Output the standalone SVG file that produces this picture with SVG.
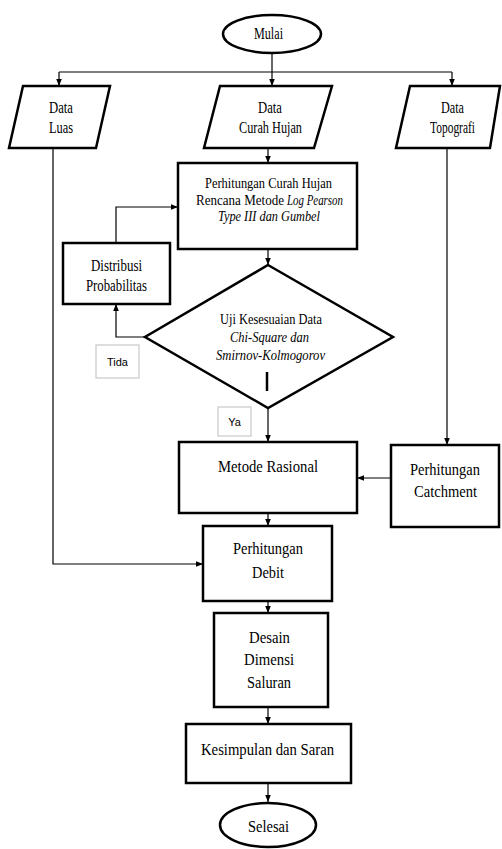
<svg xmlns="http://www.w3.org/2000/svg" width="502" height="849" viewBox="0 0 502 849">
<style>
.s{fill:#fff;stroke:#000;stroke-width:2.5}
.c{fill:none;stroke:#000;stroke-width:1.2}
.t{font-family:"Liberation Serif","Times New Roman",serif;font-size:17px;fill:#000}
.m{font-size:14.5px}
.i{font-style:italic}
.lb{fill:#fff;stroke:#c8c8c8;stroke-width:1.2}
.l{font-family:"Liberation Sans",Arial,sans-serif;font-size:11px;fill:#000}
</style>
<defs>
<marker id="a" viewBox="0 0 10 10" refX="10" refY="5" markerWidth="7" markerHeight="7" markerUnits="userSpaceOnUse" orient="auto">
<path d="M0,1 L10,5 L0,9 z" fill="#000"/>
</marker>
</defs>
<rect width="502" height="849" fill="#fff"/>
<g id="connectors">
<path class="c" d="M272,53 V72"/>
<path class="c" d="M59,72 H452"/>
<path class="c" d="M59,72 V86" marker-end="url(#a)"/>
<path class="c" d="M272,72 V86" marker-end="url(#a)"/>
<path class="c" d="M452,72 V86" marker-end="url(#a)"/>
<path class="c" d="M268,148 V163" marker-end="url(#a)"/>
<path class="c" d="M268,249 V265" marker-end="url(#a)"/>
<path class="c" d="M116,243 V207 H178" marker-end="url(#a)"/>
<path class="c" d="M145,337 H116 V304" marker-end="url(#a)"/>
<path class="c" d="M268,408 V442" marker-end="url(#a)"/>
<path class="c" d="M447,148 V445" marker-end="url(#a)"/>
<path class="c" d="M391,478 H357" marker-end="url(#a)"/>
<path class="c" d="M268,513 V526" marker-end="url(#a)"/>
<path class="c" d="M53,148 V564 H203" marker-end="url(#a)"/>
<path class="c" d="M268,601 V613" marker-end="url(#a)"/>
<path class="c" d="M268,707 V724" marker-end="url(#a)"/>
<path class="c" d="M268,783 V802" marker-end="url(#a)"/>
</g>
<g id="mulai">
<ellipse class="s" cx="272" cy="34" rx="49" ry="19"/>
<text class="t" x="254" y="39" textLength="29" lengthAdjust="spacingAndGlyphs">Mulai</text>
</g>
<g id="data-luas">
<polygon class="s" points="23,86 110,86 96,148 9,148"/>
<text class="t" x="49" y="113" textLength="24" lengthAdjust="spacingAndGlyphs">Data</text>
<text class="t" x="49" y="133" textLength="24" lengthAdjust="spacingAndGlyphs">Luas</text>
</g>
<g id="data-curah-hujan">
<polygon class="s" points="220,86 332,86 314,148 204,148"/>
<text class="t" x="258" y="113" textLength="24" lengthAdjust="spacingAndGlyphs">Data</text>
<text class="t" x="239" y="133" textLength="63" lengthAdjust="spacingAndGlyphs">Curah Hujan</text>
</g>
<g id="data-topografi">
<polygon class="s" points="410,86 500,86 490,148 396,148"/>
<text class="t" x="441" y="113" textLength="23" lengthAdjust="spacingAndGlyphs">Data</text>
<text class="t" x="430" y="133" textLength="45" lengthAdjust="spacingAndGlyphs">Topografi</text>
</g>
<g id="perhitungan-curah-hujan">
<rect class="s" x="178" y="163" width="179" height="86"/>
<text class="t m" x="205" y="188" textLength="127" lengthAdjust="spacingAndGlyphs">Perhitungan  Curah Hujan</text>
<text class="t m" x="196" y="205" textLength="88" lengthAdjust="spacingAndGlyphs">Rencana Metode</text>
<text class="t m i" x="287" y="205" textLength="56" lengthAdjust="spacingAndGlyphs">Log Pearson</text>
<text class="t m i" x="218" y="221" textLength="102" lengthAdjust="spacingAndGlyphs">Type III dan Gumbel</text>
</g>
<g id="distribusi">
<rect class="s" x="63" y="243" width="107" height="61"/>
<text class="t" x="91" y="271" textLength="51" lengthAdjust="spacingAndGlyphs">Distribusi</text>
<text class="t" x="86" y="291" textLength="61" lengthAdjust="spacingAndGlyphs">Probabilitas</text>
</g>
<g id="uji">
<polygon class="s" points="268,265 393,337 268,408 145,337"/>
<text class="t m" x="220" y="324" textLength="102" lengthAdjust="spacingAndGlyphs">Uji Kesesuaian Data</text>
<text class="t m i" x="230" y="342" textLength="79" lengthAdjust="spacingAndGlyphs">Chi-Square dan</text>
<text class="t m i" x="216" y="360" textLength="109" lengthAdjust="spacingAndGlyphs">Smirnov-Kolmogorov</text>
<path d="M267,372 V391" stroke="#000" stroke-width="2.5"/>
</g>
<g id="label-tida">
<rect class="lb" x="96" y="345" width="43" height="33"/>
<text class="l" x="117.5" y="366" text-anchor="middle">Tida</text>
</g>
<g id="label-ya">
<rect class="lb" x="218" y="407" width="33" height="29"/>
<text class="l" x="234.5" y="426" text-anchor="middle">Ya</text>
</g>
<g id="metode-rasional">
<rect class="s" x="179" y="442" width="178" height="71"/>
<text class="t" x="218" y="472" textLength="100" lengthAdjust="spacingAndGlyphs">Metode Rasional</text>
</g>
<g id="perhitungan-catchment">
<rect class="s" x="391" y="445" width="108" height="82"/>
<text class="t" x="410" y="475" textLength="70" lengthAdjust="spacingAndGlyphs">Perhitungan</text>
<text class="t" x="414" y="497" textLength="63" lengthAdjust="spacingAndGlyphs">Catchment</text>
</g>
<g id="perhitungan-debit">
<rect class="s" x="203" y="526" width="129" height="75"/>
<text class="t" x="233" y="554" textLength="70" lengthAdjust="spacingAndGlyphs">Perhitungan</text>
<text class="t" x="252" y="578" textLength="32" lengthAdjust="spacingAndGlyphs">Debit</text>
</g>
<g id="desain">
<rect class="s" x="214" y="613" width="114" height="94"/>
<text class="t" x="249" y="643" textLength="41" lengthAdjust="spacingAndGlyphs">Desain</text>
<text class="t" x="244" y="665" textLength="50" lengthAdjust="spacingAndGlyphs">Dimensi</text>
<text class="t" x="247" y="688" textLength="44" lengthAdjust="spacingAndGlyphs">Saluran</text>
</g>
<g id="kesimpulan">
<rect class="s" x="186" y="724" width="165" height="59"/>
<text class="t" x="201" y="755" textLength="133" lengthAdjust="spacingAndGlyphs">Kesimpulan dan Saran</text>
</g>
<g id="selesai">
<ellipse class="s" cx="268" cy="825" rx="48" ry="22"/>
<text class="t" x="248" y="832" textLength="41" lengthAdjust="spacingAndGlyphs">Selesai</text>
</g>
</svg>
